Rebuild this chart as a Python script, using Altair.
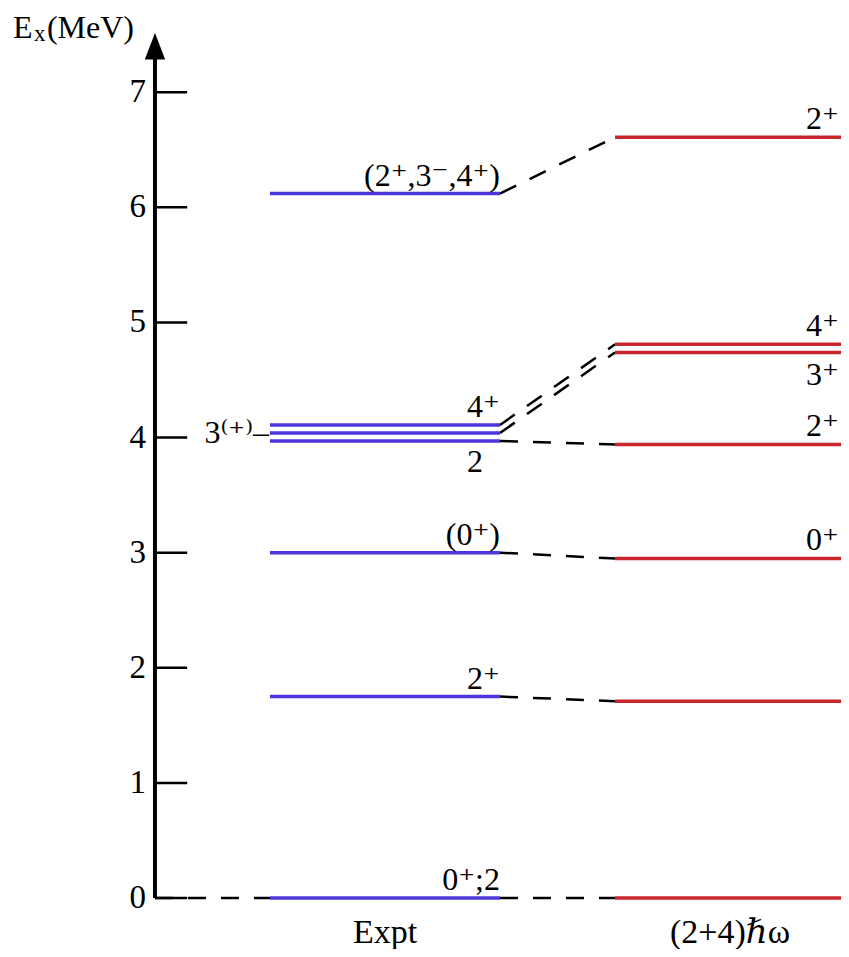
import altair as alt
import pandas as pd

# ---- data ----
ticks = [0, 1, 2, 3, 4, 5, 6, 7]
expt_E = [0.00, 1.75, 3.00, 3.97, 4.04, 4.11, 6.12]
theo_E = [0.00, 1.71, 2.95, 3.94, 4.74, 4.81, 6.61]
expt_labels = ["0⁺;2", "2⁺", "(0⁺)", "2", "3⁽⁺⁾–", "4⁺", "(2⁺,3⁻,4⁺)"]
expt_label_pos = ["above", "above", "above", "below", "left", "above", "above"]
theo_labels = ["", "", "0⁺", "2⁺", "3⁺", "4⁺", "2⁺"]
theo_label_pos = ["none", "none", "above", "above", "below", "above", "above"]
columns = ["Expt", "(2+4)ℏω"]
y_title_parts = ["E", "x", "(MeV)"]

# ---- layout constants (abstract x units) ----
AXIS_X = 0.0
TICK_LEN = 0.28
EXPT_X = (1.0, 3.0)
THEO_X = (4.0, 5.965)
AXIS_TOP = 7.30
ARROW_Y = 7.40
COL_LABEL_Y = -0.30
TITLE_X = -1.235
TITLE_Y = 7.47
BLUE = "#4b36dc"
RED = "#c8262c"
FONT = "Liberation Serif, DejaVu Serif"

xs = alt.Scale(domain=[-1.278, 5.965], nice=False, zero=False)
ys = alt.Scale(domain=[-0.443, 7.732], nice=False, zero=False)


def X(f):
    return alt.X(f, type="quantitative", scale=xs, axis=None)


def Y(f):
    return alt.Y(f, type="quantitative", scale=ys, axis=None)


# axis line + arrow
axis_df = pd.DataFrame({"x": [AXIS_X], "y": [0.0], "y2": [AXIS_TOP]})
axis_line = alt.Chart(axis_df).mark_rule(color="black", strokeWidth=4).encode(
    x=X("x"), y=Y("y"), y2="y2"
)
arrow_df = pd.DataFrame({"x": [AXIS_X], "y": [ARROW_Y]})
arrow = alt.Chart(arrow_df).mark_point(
    shape="M0,-1L0.77,1L-0.77,1Z", filled=True, size=700, color="black", opacity=1, strokeWidth=0
).encode(x=X("x"), y=Y("y"))

tick_df = pd.DataFrame({"y": ticks, "x": AXIS_X, "x2": AXIS_X + TICK_LEN, "label": [str(t) for t in ticks]})
tick_rules = alt.Chart(tick_df).mark_rule(color="black", strokeWidth=2.5).encode(
    x=X("x"), x2="x2", y=Y("y")
)
tick_labels = alt.Chart(tick_df).mark_text(
    align="right", baseline="middle", dx=-9, font=FONT, fontSize=33, color="black"
).encode(x=X("x"), y=Y("y"), text="label:N")

# y title, built from pieces (E with subscript x)
title_df = pd.DataFrame({"x": [TITLE_X], "y": [TITLE_Y]})
tbase = alt.Chart(title_df).encode(x=X("x"), y=Y("y"))
title_E = tbase.mark_text(text=y_title_parts[0], align="left", baseline="alphabetic",
                          font=FONT, fontSize=32, color="black")
title_x = tbase.mark_text(text=y_title_parts[1], align="left", baseline="alphabetic", dx=21, dy=3,
                          font=FONT, fontSize=23, color="black")
title_m = tbase.mark_text(text=y_title_parts[2], align="left", baseline="alphabetic", dx=34,
                          font=FONT, fontSize=32, color="black")

# levels
expt_df = pd.DataFrame({"E": expt_E, "x": EXPT_X[0], "x2": EXPT_X[1],
                        "label": expt_labels, "pos": expt_label_pos})
theo_df = pd.DataFrame({"E": theo_E, "x": THEO_X[0], "x2": THEO_X[1],
                        "label": theo_labels, "pos": theo_label_pos})
expt_lines = alt.Chart(expt_df).mark_rule(color=BLUE, strokeWidth=3.5).encode(
    x=X("x"), x2="x2", y=Y("E")
)
theo_lines = alt.Chart(theo_df).mark_rule(color=RED, strokeWidth=3.5).encode(
    x=X("x"), x2="x2", y=Y("E")
)

# connectors
conn_df = pd.DataFrame({"x": EXPT_X[1], "x2": THEO_X[0], "y": expt_E, "y2": theo_E})
base_df = pd.DataFrame({"x": [AXIS_X], "x2": [EXPT_X[0]], "y": [0.0], "y2": [0.0]})
conn_all = pd.concat([conn_df, base_df], ignore_index=True)
connectors = alt.Chart(conn_all).mark_rule(
    color="black", strokeWidth=2.5, strokeDash=[18, 15]
).encode(x=X("x"), x2="x2", y=Y("y"), y2="y2")

# labels
txt = dict(font=FONT, fontSize=32, color="black", baseline="alphabetic")
e_above = alt.Chart(expt_df[expt_df.pos == "above"]).mark_text(align="right", dx=0, dy=-8, **txt).encode(
    x=X("x2"), y=Y("E"), text="label:N")
e_below = alt.Chart(expt_df[expt_df.pos == "below"]).mark_text(align="right", dx=-17, dy=31, **txt).encode(
    x=X("x2"), y=Y("E"), text="label:N")
e_left = alt.Chart(expt_df[expt_df.pos == "left"]).mark_text(align="right", dx=-1, dy=10, **txt).encode(
    x=X("x"), y=Y("E"), text="label:N")
t_above = alt.Chart(theo_df[theo_df.pos == "above"]).mark_text(align="right", dx=-2, dy=-8, **txt).encode(
    x=X("x2"), y=Y("E"), text="label:N")
t_below = alt.Chart(theo_df[theo_df.pos == "below"]).mark_text(align="right", dx=-2, dy=33, **txt).encode(
    x=X("x2"), y=Y("E"), text="label:N")

col_df = pd.DataFrame({"label": columns,
                       "x": [(EXPT_X[0] + EXPT_X[1]) / 2, 5.0],
                       "y": COL_LABEL_Y})
col_labels = alt.Chart(col_df).mark_text(
    font=FONT, fontSize=34, color="black", baseline="middle", align="center"
).encode(x=X("x"), y=Y("y"), text="label:N")

chart = alt.layer(
    connectors, axis_line, arrow, tick_rules, tick_labels, title_E, title_x, title_m,
    expt_lines, theo_lines, e_above, e_below, e_left, t_above, t_below, col_labels
).properties(
    width=833, height=941,
    padding=0,
    autosize=alt.AutoSizeParams(type="none"),
).configure(background="white", view=alt.ViewConfig(stroke=None))

chart.save("out.html", embed_options={"renderer": "svg", "actions": False})
